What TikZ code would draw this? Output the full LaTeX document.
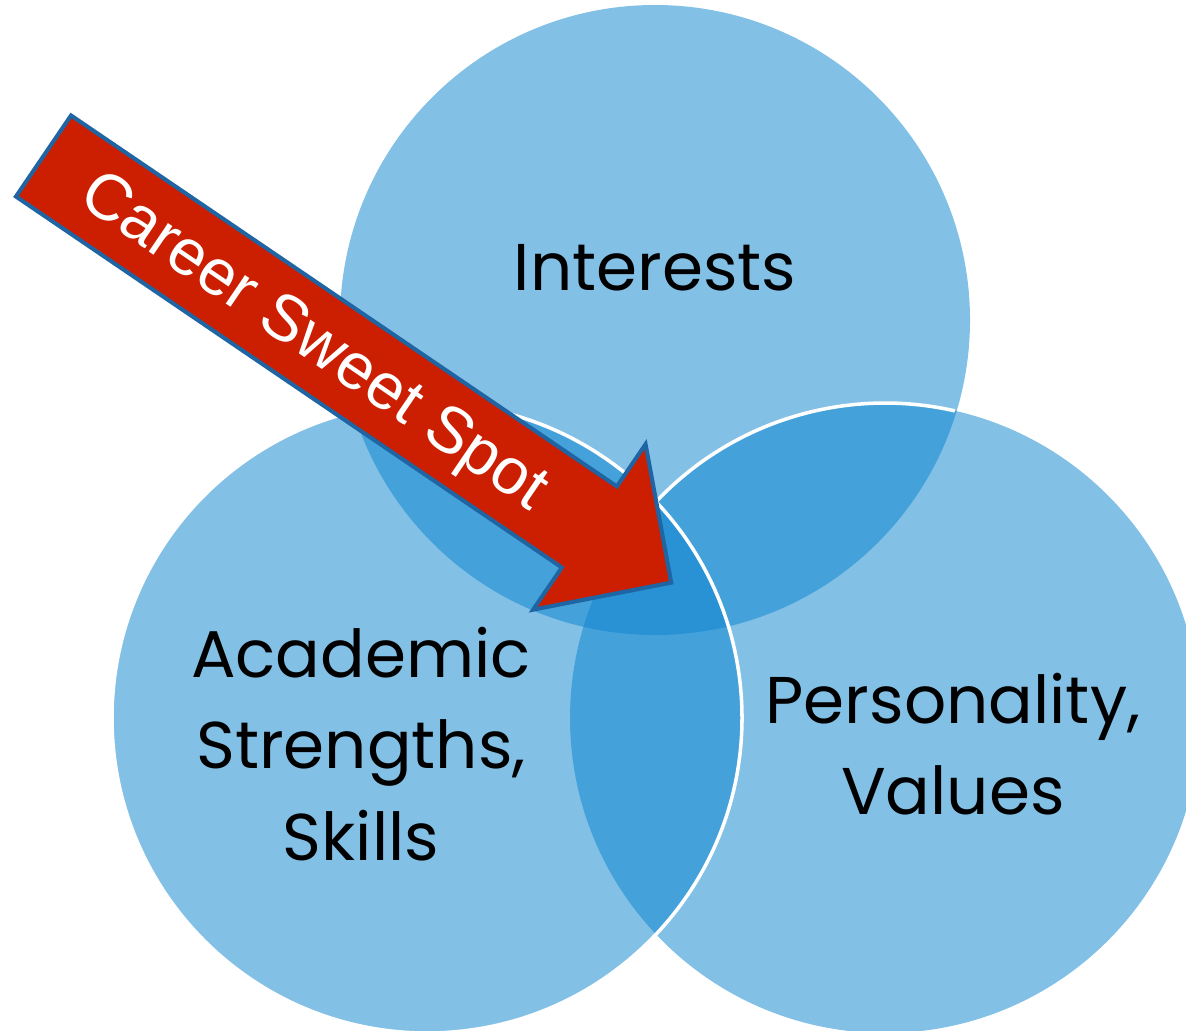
\documentclass[tikz,border=0pt]{standalone}
\usepackage{fontspec}
\setmainfont{Poppins}
\newfontfamily\arrowfont{Liberation Sans}
\usetikzlibrary{positioning}
\definecolor{vennblue}{RGB}{11,132,206}
\definecolor{spotred}{RGB}{204,30,0}
\definecolor{spotedge}{RGB}{31,100,163}
\begin{document}
\begin{tikzpicture}[x=0.01cm,y=0.01cm,
  setfill/.style={fill=vennblue,fill opacity=0.51},
  rim/.style={draw=white,line width=1pt},
  settext/.style={align=center,text=black,font=\fontsize{18.8}{26}\selectfont},
  spotarrow/.style={fill=spotred,draw=spotedge,line width=1.15pt},
  sweet/.style={text=white,font=\arrowfont\fontsize{18.5}{22}\selectfont,rotate=-34.2}]
 \clip (0,0) rectangle (1186,-1030);
 \coordinate (I) at (655,-320);
 \coordinate (A) at (427,-718);
 \coordinate (P) at (885,-718);
 % the three sets
 \fill[setfill] (I) circle (315);
 \fill[setfill] (A) circle (315);
 \fill[setfill] (P) circle (315);
 \draw[rim] (A) circle (315);
 \draw[rim] ([shift={(77.2:315)}]P) arc[start angle=77.2,end angle=136.8,radius=315];
 \node[settext,anchor=base] (interests) at (655,-290) {Interests};
 \node[settext] (academic) at (361,-744) {Academic\\Strengths,\\Skills};
 \node[settext] (personality) at (953,-744) {Personality,\\Values};
 % arrow
 \begin{scope}[shift={(43.5,-156)},rotate=-34.2]
  \filldraw[spotarrow] (0,49) -- (660,49) -- (660,100) -- (759,0) -- (660,-100) -- (660,-49) -- (0,-49) -- cycle;
  \node[sweet] (spot) at (328,-4) {Career Sweet Spot};
 \end{scope}
\end{tikzpicture}
\end{document}
